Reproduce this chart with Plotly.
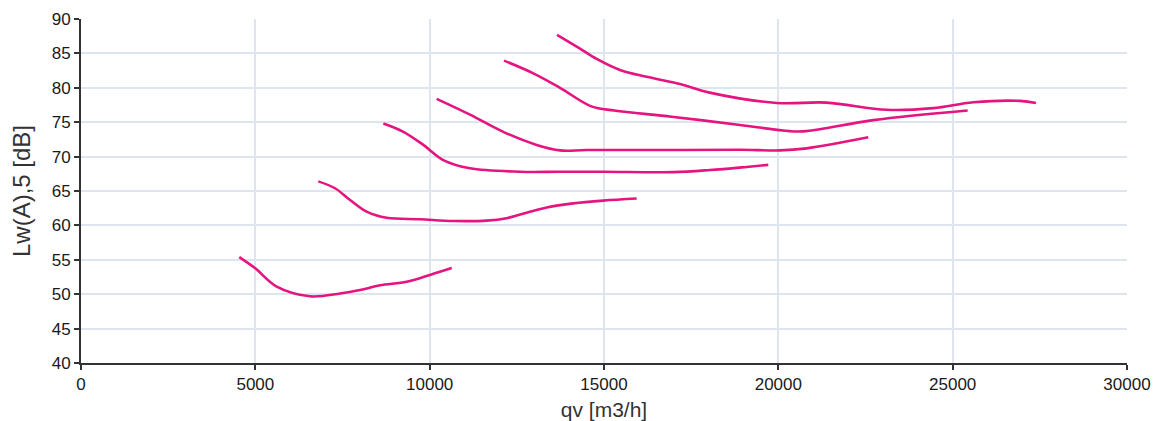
import plotly.graph_objects as go

# Data (qv [m3/h], Lw(A),5 [dB])
c1_x = [4540, 4990, 5613, 6568, 7428, 8002, 8575, 9341, 10009, 10632]
c1_y = [55.4, 53.8, 51.1, 49.7, 50.1, 50.6, 51.3, 51.8, 52.8, 53.8]

c2_x = [6806, 7285, 7715, 8193, 8767, 9723, 10679, 11635, 12209, 12783, 13356, 14119, 14980, 15937]
c2_y = [66.4, 65.4, 63.7, 62.0, 61.1, 60.9, 60.65, 60.7, 61.05, 61.85, 62.6, 63.2, 63.6, 63.9]

c3_x = [8671, 9245, 9818, 10391, 11157, 12591, 13738, 14980, 16987, 18039, 19092, 19712]
c3_y = [74.8, 73.6, 71.7, 69.5, 68.3, 67.8, 67.8, 67.8, 67.75, 68.05, 68.5, 68.8]

c4_x = [10201, 11157, 12112, 13069, 13738, 14503, 16893, 18900, 20047, 20812, 22580]
c4_y = [78.4, 76.1, 73.6, 71.7, 70.9, 70.95, 70.95, 71.0, 70.9, 71.2, 72.8]

c5_x = [12131, 12973, 13738, 14638, 15295, 16936, 18900, 20334, 20812, 22723, 25430]
c5_y = [83.95, 82.1, 80.0, 77.3, 76.7, 75.8, 74.6, 73.7, 73.7, 75.3, 76.7]

c6_x = [13652, 14311, 14790, 15459, 16224, 17180, 18031, 19952, 21386, 23107, 24445, 25592, 26932, 27389]
c6_y = [87.7, 85.7, 84.2, 82.6, 81.6, 80.55, 79.3, 77.8, 77.85, 76.8, 77.05, 77.9, 78.1, 77.8]

curves_x = [c1_x, c2_x, c3_x, c4_x, c5_x, c6_x]
curves_y = [c1_y, c2_y, c3_y, c4_y, c5_y, c6_y]

x_ticks = [0, 5000, 10000, 15000, 20000, 25000, 30000]
y_ticks = [40, 45, 50, 55, 60, 65, 70, 75, 80, 85, 90]

LINE_COLOR = "#E5147F"

fig = go.Figure()
for xs, ys in zip(curves_x, curves_y):
    fig.add_trace(go.Scatter(
        x=xs, y=ys, mode="lines",
        line=dict(color=LINE_COLOR, width=2.6, shape="spline", smoothing=1.0),
        showlegend=False, hoverinfo="x+y",
    ))

axis_font = dict(family="Liberation Sans, Arial, sans-serif", size=17, color="#1a1a1a")
xtitle_font = dict(family="Liberation Sans, Arial, sans-serif", size=21, color="#333333")
ytitle_font = dict(family="Liberation Sans, Arial, sans-serif", size=24, color="#333333")

fig.update_layout(
    width=1153, height=421,
    margin=dict(l=81, r=26, t=19, b=58),
    paper_bgcolor="white", plot_bgcolor="white",
    xaxis=dict(
        range=[0, 30000], tickvals=x_ticks, ticktext=[str(v) for v in x_ticks],
        showgrid=True, gridcolor="#dfe5ee", gridwidth=1.5,
        showline=True, linecolor="#333333", linewidth=2,
        ticks="outside", ticklen=5, tickcolor="#333333", tickwidth=1.5,
        tickfont=axis_font, zeroline=False, automargin=False,
        title=dict(text="qv [m3/h]", font=xtitle_font, standoff=13),
    ),
    yaxis=dict(
        range=[40, 90], tickvals=y_ticks, ticktext=[str(v) for v in y_ticks],
        showgrid=True, gridcolor="#dfe5ee", gridwidth=1.5,
        showline=True, linecolor="#333333", linewidth=2,
        ticks="outside", ticklen=5, tickcolor="#333333", tickwidth=1.5,
        tickfont=axis_font, zeroline=False, automargin=False,
        title=dict(text="Lw(A),5 [dB]", font=ytitle_font, standoff=14),
    ),
)

# Remove the browser's default 8px body margin so the figure fills the window exactly.
fig.write_html(
    "out.html",
    config={"displayModeBar": False},
    post_script="document.body.style.margin='0';document.body.style.overflow='hidden';",
)
